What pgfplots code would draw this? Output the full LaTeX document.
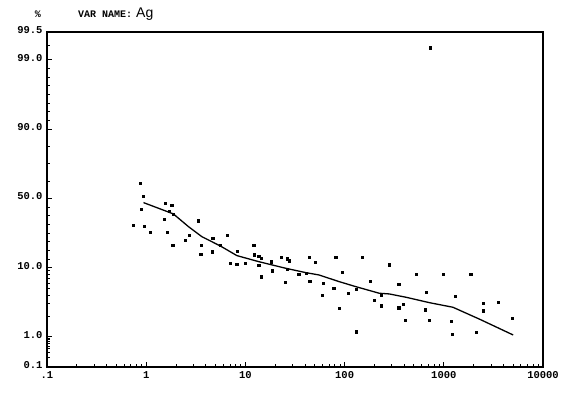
\documentclass[border=0pt]{standalone}
\usepackage{fontspec}
\setmainfont{Liberation Sans}
\newfontfamily\dotfont{Liberation Mono}
\usepackage{pgfplots}
\usepackage{pgfplotstable}
\pgfplotsset{compat=1.18}
% x = value (log scale), u = position on the probability scale
% (u: 0.1% = -0.433, 1% = 0, 10% = 1, 50% = 2, 90% = 3, 99% = 4, 99.5% = 4.40)
\pgfplotstableread{
x u
0.863 2.217
0.939 2.036
0.884 1.848
0.739 1.617
0.954 1.603
1.105 1.509
1.547 1.928
1.804 1.906
1.690 1.809
1.877 1.776
1.521 1.704
1.643 1.512
1.846 1.329
3.363 1.679
2.483 1.391
2.706 1.470
3.580 1.329
3.547 1.196
4.692 1.422
4.627 1.230
6.505 1.463
5.577 1.324
7.008 1.064
8.154 1.050
8.250 1.242
9.990 1.064
12.12 1.326
12.32 1.188
13.62 1.160
14.44 1.141
13.62 1.035
14.51 0.869
18.32 1.087
18.57 0.956
22.75 1.151
26.35 1.129
27.42 1.100
26.35 0.982
25.39 0.794
34.38 0.910
41.04 0.920
43.70 1.151
50.85 1.079
44.42 0.804
60.99 0.775
59.18 0.604
77.73 0.705
81.45 1.151
95.43 0.939
87.98 0.419
151.5 1.151
109.3 0.631
129.9 0.689
181.2 0.801
199.0 0.534
232.6 0.606
232.6 0.452
282.3 1.043
350.6 0.758
350.6 0.423
391.2 0.469
526.0 0.905
664.2 0.643
645.9 0.394
410.0 0.245
709.0 0.245
994.2 0.910
1866 0.910
1306 0.592
2486 0.487
3560 0.501
2486 0.380
1190 0.231
4854 0.267
1218 0.043
2132 0.068
129.9 0.077
734.3 4.173
}\pointdata
\pgfplotstableread{
x u
0.939 1.939
1.877 1.776
2.663 1.593
3.631 1.448
5.577 1.314
8.21 1.174
13.62 1.087
25.39 0.992
40.47 0.929
55.17 0.895
87.98 0.799
129.9 0.726
223.6 0.631
282.3 0.621
416.8 0.573
717.4 0.495
1235 0.429
2301 0.256
5004 0.029
}\linedata
\begin{document}
\begin{tikzpicture}[x=1pt,y=1pt]
\path[use as bounding box] (-47,-30) rectangle (520,367);
\begin{axis}[
  at={(0,0)}, anchor=south west,
  scale only axis, width=496pt, height=335pt,
  xmode=log, xmin=0.1, xmax=10000,
  ymin=-0.433, ymax=4.40,
  xtick={0.1,1,10,100,1000,10000},
  xticklabels={.1,1,10,100,1000,10000},
  minor xtick={0.2,0.3,0.4,0.5,0.6,0.7,0.8,0.9,2,3,4,5,6,7,8,9,20,30,40,50,60,70,80,90,200,300,400,500,600,700,800,900,2000,3000,4000,5000,6000,7000,8000,9000},
  ytick={-0.433,0,1,2,3,4,4.40},
  yticklabels={0.1,1.0,10.0,50.0,90.0,99.0,99.5},
  minor ytick={-0.303,-0.226,-0.172,-0.130,-0.097,-0.067,-0.042,-0.020,0.301,0.477,0.602,0.699,0.778,0.845,0.903,0.954,1.125,1.25,1.375,1.5,1.625,1.75,1.875,2.25,2.5,2.75,3.125,3.25,3.375,3.5,3.625,3.75,3.875,4.2},
  tick pos=left,
  tick align=inside,
  major tick length=5pt, minor tick length=3pt,
  every tick/.style={black, line width=1pt},
  axis line style={line width=1.6pt},
  ticklabel style={font=\dotfont\bfseries\fontsize{10.5}{11}\selectfont, text=black},
  xticklabel style={yshift=-1pt},
  yticklabel style={xshift=-1pt, yshift=2pt},
  clip=false,
]
\addplot[only marks, mark=square*, mark size=1.1pt, black] table[x=x, y=u] {\pointdata};
\addplot[black, line width=1.3pt, no marks] table[x=x, y=u] {\linedata};
\end{axis}
\node[anchor=base, font=\dotfont\bfseries\fontsize{10}{11}\selectfont] at (-9,349) {\%};
\node[anchor=base west, inner sep=0pt, font=\dotfont\bfseries\fontsize{10}{11}\selectfont] at (31,349) {VAR NAME:};
\node[anchor=base west, inner sep=0pt, font=\fontsize{14}{16}\selectfont] at (89,349) {Ag};
\end{tikzpicture}
\end{document}
